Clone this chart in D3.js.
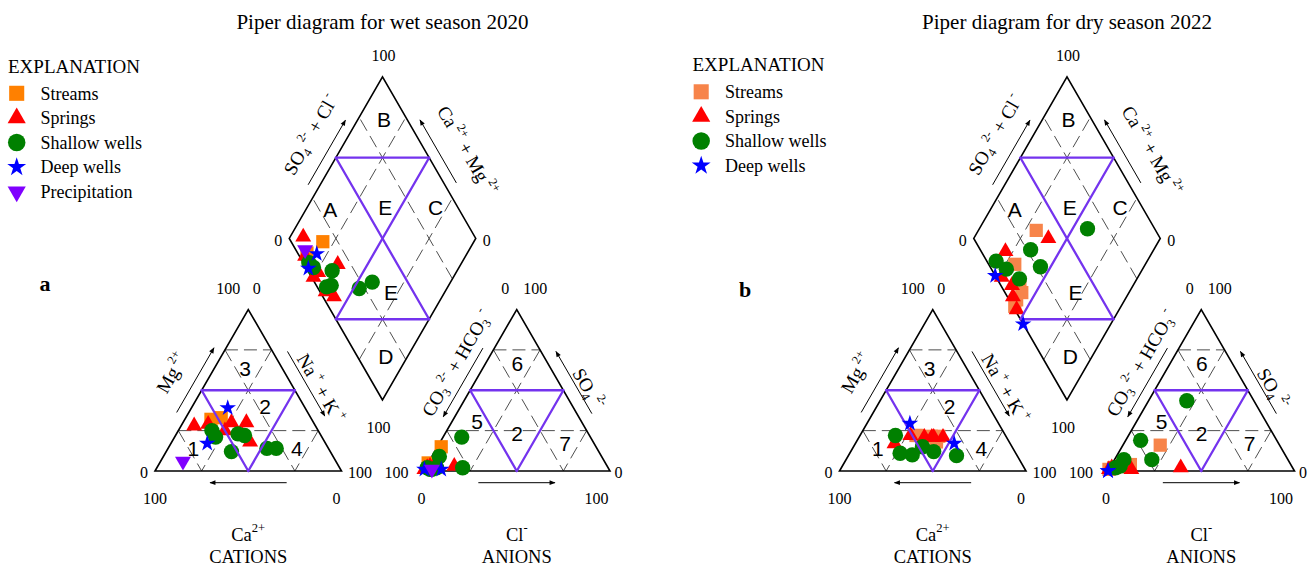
<!DOCTYPE html>
<html>
<head>
<meta charset="utf-8">
<title>Piper diagrams</title>
<script src="https://cdn.jsdelivr.net/npm/d3@7/dist/d3.min.js"></script>
<style>
  html, body { margin: 0; padding: 0; background: #fff; }
  svg { display: block; }
</style>
</head>
<body>
<svg id="chart" width="1314" height="568"></svg>
<script>
// Each sample: [Ca, Mg, Na+K, CO3+HCO3, SO4, Cl] in percent of meq/L
const seriesNames = ["Streams", "Springs", "Shallow wells", "Deep wells", "Precipitation"];

const wetStreams = [[48, 33, 19, 83, 15, 2], [54, 32, 14, 95, 5, 0]];
const wetSprings = [
  [65, 28, 7, 92, 4, 4], [57, 29, 14, 97, 2, 1], [44, 30, 26, 95, 3, 2],
  [36, 30, 34, 82, 3, 15], [40, 18, 42, 94, 2, 4], [42, 22, 36, 97, 2, 1],
  [50, 25, 25, 99, 1, 0]
];
const wetShallow = [
  [57, 25, 18, 97, 2, 1], [44, 23, 33, 87, 9, 4], [41, 22, 37, 92, 2, 6],
  [53, 12, 35, 95, 1, 4], [33, 14, 53, 78, 2, 20], [28, 14, 58, 69, 21, 10],
  [57, 21, 22, 96, 1, 3]
];
const wetDeep = [[41.5, 39, 19.5, 90, 1, 9], [63.5, 17, 19.5, 99, 1, 0]];
const wetPrecip = [[82, 6, 12, 95, 1, 4]];

const dryStreams = [
  [47, 22, 31, 64, 16, 20], [48, 22, 30, 86, 4, 10], [40, 21.5, 38.5, 89, 3, 8],
  [36, 21.5, 42.5, 91, 3, 6], [38, 20, 42, 96, 2, 2], [39, 18, 43, 99, 1, 0]
];
const drySprings = [
  [39, 21, 40, 60, 2, 38], [62, 17, 21, 87, 1, 12], [44, 21, 35, 94, 2, 4],
  [40, 21, 39, 97, 1, 2], [34, 21, 45, 99, 1, 0], [51, 22, 27, 97, 2, 1]
];
const dryShallow = [
  [32.5, 9.5, 58, 36, 43.5, 20.5], [56, 10, 34, 73, 19, 8], [43.5, 12, 44.5, 73, 7, 20],
  [59, 22, 19, 95, 2, 3], [62, 11, 27, 92, 3, 5], [48, 15, 37, 88, 7, 5]
];
const dryDeep = [[47.5, 29.5, 23, 100, 0, 0], [30, 17, 53, 100, 0, 0]];

// Axis tick labels and field labels
const cornerTicks = ["0", "100"];
const cationRegions = [["1", 14, 13.5], ["2", 40, 39], ["3", 63.6, 16.5], ["4", 14, 69]];   // [label, Mg, Na+K]
const anionRegions = [["5", 30.5, 13.5], ["2", 23.3, 38.5], ["6", 66.7, 17], ["7", 17.1, 67.4]]; // [label, SO4, Cl]
const diamondRegions = [["A", 87, 31], ["B", 86, 87.6], ["C", 31, 88], ["D", 11.7, 15.4], ["E", 58, 61], ["E", 28.7, 37.7]]; // [label, Ca+Mg, SO4+Cl]

const palette = {
  wet: { "Streams": "#ff8000", "Springs": "#ff0000", "Shallow wells": "#008000", "Deep wells": "#0000ff", "Precipitation": "#8000ff" },
  dry: { "Streams": "#f7844a", "Springs": "#ff0000", "Shallow wells": "#008000", "Deep wells": "#0000ff" }
};
const PURPLE = "#7433ee";
const SERIF = "'Liberation Serif', 'Times New Roman', serif";
const SANS = "'Liberation Sans', Arial, sans-serif";

const svg = d3.select("#chart");
const SQ3 = Math.sqrt(3) / 2;
const SIDE = 186.5, GAP = 82, BASE_Y = 471;
const tern = d3.scaleLinear().domain([0, 100]).range([0, SIDE]);

// arrowhead marker
const defs = svg.append("defs");
defs.append("marker").attr("id", "head").attr("viewBox", "0 0 10 10")
  .attr("refX", 9).attr("refY", 5).attr("markerWidth", 8).attr("markerHeight", 6)
  .attr("markerUnits", "userSpaceOnUse").attr("orient", "auto")
  .append("path").attr("d", "M0,1 L10,5 L0,9 Z").attr("fill", "#000");

const symbolOf = {
  "Streams": { type: d3.symbolSquare, size: 175, rot: 0 },
  "Springs": { type: d3.symbolTriangle, size: 110, rot: 0 },
  "Shallow wells": { type: d3.symbolCircle, size: 185, rot: 0 },
  "Deep wells": { type: d3.symbolStar, size: 85, rot: 0 },
  "Precipitation": { type: d3.symbolTriangle, size: 110, rot: 180 }
};

function geometry(ox) {
  const cat0 = [ox, BASE_Y];
  const an0 = [ox + SIDE + GAP, BASE_Y];
  const dia0 = [ox + SIDE + GAP / 2, BASE_Y - GAP * SQ3];
  return {
    cat: (ca, mg, na) => [cat0[0] + tern(na + mg / 2), cat0[1] - tern(mg) * SQ3],
    an: (hc, so, cl) => [an0[0] + tern(cl + so / 2), an0[1] - tern(so) * SQ3],
    dia: (camg, socl) => [dia0[0] + (tern(socl) - tern(camg)) / 2, dia0[1] - (tern(camg) + tern(socl)) * SQ3]
  };
}

function richText(sel, parts, size) {
  let cur = 0;
  parts.forEach(([t, rise = 0, scale = 1]) => {
    sel.append("tspan").attr("dy", cur - rise).attr("font-size", size * scale).text(t);
    cur = rise;
  });
}

function along(P0, P1, t, off) {
  const dx = P1[0] - P0[0], dy = P1[1] - P0[1], L = Math.hypot(dx, dy);
  const nx = dy / L, ny = -dx / L;
  return [P0[0] + dx * t + nx * off, P0[1] + dy * t + ny * off];
}

function edgeLabel(g, P0, P1, t, off, parts, size) {
  const [x, y] = along(P0, P1, t, off);
  const ang = Math.atan2(P1[1] - P0[1], P1[0] - P0[0]) * 180 / Math.PI;
  const txt = g.append("text").attr("transform", `translate(${x},${y}) rotate(${ang})`)
    .attr("text-anchor", "middle").attr("font-family", SERIF).attr("font-size", size);
  richText(txt, parts, size);
}

function edgeArrow(g, P0, P1, t0, t1, off, headAtEnd) {
  let a = along(P0, P1, t0, off), b = along(P0, P1, t1, off);
  if (!headAtEnd) [a, b] = [b, a];
  g.append("line").attr("x1", a[0]).attr("y1", a[1]).attr("x2", b[0]).attr("y2", b[1])
    .attr("stroke", "#000").attr("stroke-width", 1).attr("marker-end", "url(#head)");
}

function label(g, x, y, text, size, opts = {}) {
  return g.append("text").attr("x", x).attr("y", y).attr("dy", "0.35em")
    .attr("text-anchor", opts.anchor || "middle")
    .attr("font-family", opts.family || SERIF).attr("font-size", size)
    .attr("font-weight", opts.weight || "normal").text(text);
}

function drawPanel(cfg) {
  const G = geometry(cfg.ox);
  const g = svg.append("g");
  const dx = cfg.ox - 155;
  const seg = (P, Q, style) => g.append("line").attr("x1", P[0]).attr("y1", P[1]).attr("x2", Q[0]).attr("y2", Q[1]).call(style);
  const dashed = s => s.attr("stroke", "#3a3a3a").attr("stroke-width", 0.9).attr("stroke-dasharray", "13,6");
  const purple = s => s.attr("stroke", PURPLE).attr("stroke-width", 2.3).attr("stroke-linecap", "round");

  // subdivision lines at 25 % and 75 %
  [25, 75].forEach(v => {
    seg(G.cat(100 - v, v, 0), G.cat(0, v, 100 - v), dashed);
    seg(G.cat(v, 100 - v, 0), G.cat(v, 0, 100 - v), dashed);
    seg(G.cat(0, 100 - v, v), G.cat(100 - v, 0, v), dashed);
    seg(G.an(100 - v, v, 0), G.an(0, v, 100 - v), dashed);
    seg(G.an(v, 100 - v, 0), G.an(v, 0, 100 - v), dashed);
    seg(G.an(0, 100 - v, v), G.an(100 - v, 0, v), dashed);
    seg(G.dia(v, 0), G.dia(v, 100), dashed);
    seg(G.dia(0, v), G.dia(100, v), dashed);
  });

  // outlines
  const outline = pts => g.append("path").attr("d", d3.line()(pts) + "Z")
    .attr("fill", "none").attr("stroke", "#000").attr("stroke-width", 1.6).attr("stroke-linejoin", "miter");
  outline([G.cat(100, 0, 0), G.cat(0, 100, 0), G.cat(0, 0, 100)]);
  outline([G.an(100, 0, 0), G.an(0, 100, 0), G.an(0, 0, 100)]);
  outline([G.dia(0, 0), G.dia(100, 0), G.dia(100, 100), G.dia(0, 100)]);

  // field labels
  cationRegions.forEach(([t, mg, na]) => { const p = G.cat(100 - mg - na, mg, na); label(g, p[0], p[1], t, 21, { family: SANS }); });
  anionRegions.forEach(([t, so, cl]) => { const p = G.an(100 - so - cl, so, cl); label(g, p[0], p[1], t, 21, { family: SANS }); });
  diamondRegions.forEach(([t, a, b]) => { const p = G.dia(a, b); label(g, p[0], p[1], t, 21, { family: SANS }); });

  // samples: each drawn in the cation triangle, the anion triangle and the diamond
  const pal = palette[cfg.key];
  const drawPoints = (name, rows) => {
    const sym = symbolOf[name];
    const path = d3.symbol().type(sym.type).size(sym.size)();
    rows.forEach(r => {
      const [ca, mg, na, hc, so, cl] = r;
      [G.cat(ca, mg, na), G.an(hc, so, cl), G.dia(ca + mg, so + cl)].forEach(p => {
        g.append("path").attr("d", path)
          .attr("transform", `translate(${p[0]},${p[1]}) rotate(${sym.rot})`)
          .attr("fill", pal[name]);
      });
    });
  };
  cfg.series.filter(s => s[0] !== "Deep wells" && s[0] !== "Precipitation").forEach(([n, rows]) => drawPoints(n, rows));

  // 50 % boundaries
  seg(G.cat(50, 50, 0), G.cat(0, 50, 50), purple);
  seg(G.cat(50, 50, 0), G.cat(50, 0, 50), purple);
  seg(G.cat(0, 50, 50), G.cat(50, 0, 50), purple);
  seg(G.an(50, 50, 0), G.an(0, 50, 50), purple);
  seg(G.an(50, 50, 0), G.an(50, 0, 50), purple);
  seg(G.an(0, 50, 50), G.an(50, 0, 50), purple);
  seg(G.dia(100, 50), G.dia(50, 100), purple);
  seg(G.dia(50, 0), G.dia(0, 50), purple);
  seg(G.dia(50, 0), G.dia(50, 100), purple);
  seg(G.dia(0, 50), G.dia(100, 50), purple);

  cfg.series.filter(s => s[0] === "Deep wells" || s[0] === "Precipitation").forEach(([n, rows]) => drawPoints(n, rows));

  // axis titles along the edges
  const S = 19;
  const cBL = G.cat(100, 0, 0), cTop = G.cat(0, 100, 0), cBR = G.cat(0, 0, 100);
  const aBL = G.an(100, 0, 0), aTop = G.an(0, 100, 0), aBR = G.an(0, 0, 100);
  const dL = G.dia(100, 0), dT = G.dia(100, 100), dR = G.dia(0, 100), dB = G.dia(0, 0);
  edgeLabel(g, cBL, cTop, 0.5, 28, [["Mg"], [" 2+", 9, 0.65]], S);
  edgeArrow(g, cBL, cTop, 0.33, 0.73, 10.5, true);
  edgeLabel(g, cTop, cBR, 0.56, 17, [["Na"], [" +", 9, 0.65], [" + K"], [" +", 9, 0.65]], S);
  edgeArrow(g, cTop, cBR, 0.30, 0.70, 13, true);
  edgeLabel(g, aBL, aTop, 0.59, 19, [["CO"], ["3", -4, 0.65], [" 2-", 9, 0.65], [" + HCO"], ["3", -4, 0.65], [" -", 9, 0.65]], S);
  edgeArrow(g, aBL, aTop, 0.305, 0.73, 10, false);
  edgeLabel(g, aTop, aBR, 0.56, 16, [["SO"], ["4", -4, 0.65], [" 2-", 9, 0.65]], S);
  edgeArrow(g, aTop, aBR, 0.30, 0.685, 13, false);
  edgeLabel(g, dL, dT, 0.54, 27, [["SO"], ["4", -4, 0.65], [" 2-", 9, 0.65], [" + Cl"], [" -", 9, 0.65]], S);
  edgeArrow(g, dL, dT, 0.30, 0.70, 10.5, true);
  edgeLabel(g, dT, dR, 0.57, 30, [["Ca"], [" 2+", 9, 0.65], [" + Mg"], [" 2+", 9, 0.65]], S);
  edgeArrow(g, dT, dR, 0.30, 0.69, 11, false);

  // base arrows
  edgeArrow(g, cBR, cBL, 0.294, 0.705, 11.7, true);
  edgeArrow(g, aBL, aBR, 0.294, 0.705, -11.7, true);

  // corner ticks
  const T = 16;
  label(g, cTop[0] - 20, 288.3, cornerTicks[1], T);
  label(g, cTop[0] + 8.5, 288.3, cornerTicks[0], T);
  label(g, cBL[0] - 11, 472.5, cornerTicks[0], T);
  label(g, cBR[0] + 18.5, 472.5, cornerTicks[1], T);
  label(g, cBL[0], 498, cornerTicks[1], T);
  label(g, cBR[0] - 5, 498, cornerTicks[0], T);
  label(g, aTop[0] - 11.5, 288.3, cornerTicks[0], T);
  label(g, aTop[0] + 18.5, 288.3, cornerTicks[1], T);
  label(g, aBL[0] - 27, 472.5, cornerTicks[1], T);
  label(g, aBR[0] + 8.5, 472.5, cornerTicks[0], T);
  label(g, aBL[0] - 2, 498, cornerTicks[0], T);
  label(g, aBR[0] - 13.5, 498, cornerTicks[1], T);
  label(g, dT[0] + 1, 55, cornerTicks[1], T);
  label(g, dL[0] - 11, 240, cornerTicks[0], T);
  label(g, dR[0] + 11, 240, cornerTicks[0], T);
  label(g, dB[0] - 4, 427.5, cornerTicks[1], T);

  // captions
  const ca = g.append("text").attr("x", (cBL[0] + cBR[0]) / 2).attr("y", 541).attr("text-anchor", "middle")
    .attr("font-family", SERIF).attr("font-size", 18.5);
  richText(ca, [["Ca"], ["2+", 9, 0.68]], 18.5);
  label(g, (cBL[0] + cBR[0]) / 2, 557, "CATIONS", 18.5);
  const cl = g.append("text").attr("x", (aBL[0] + aBR[0]) / 2).attr("y", 541).attr("text-anchor", "middle")
    .attr("font-family", SERIF).attr("font-size", 18.5);
  richText(cl, [["Cl"], ["-", 9, 0.68]], 18.5);
  label(g, (aBL[0] + aBR[0]) / 2, 557, "ANIONS", 18.5);

  // title and panel letter
  label(g, dT[0], 22, cfg.title, 21);
  label(g, cfg.letterPos[0], cfg.letterPos[1], cfg.letter, 22, { weight: "bold" });

  // legend
  const lg = g.append("g").attr("transform", `translate(${8 + dx},${cfg.legendY})`);
  label(lg, 0, 0, "EXPLANATION", 19, { anchor: "start" });
  cfg.series.forEach(([n], i) => {
    const y = 27.3 + i * 24.6;
    const sym = symbolOf[n];
    lg.append("path").attr("d", d3.symbol().type(sym.type).size(sym.size * 1.3)())
      .attr("transform", `translate(8.7,${y}) rotate(${sym.rot})`).attr("fill", pal[n]);
    label(lg, 32.5, y, n, 18, { anchor: "start" });
  });
}

drawPanel({
  ox: 155, key: "wet", title: "Piper diagram for wet season 2020", letter: "a", letterPos: [45, 283], legendY: 66,
  series: [["Streams", wetStreams], ["Springs", wetSprings], ["Shallow wells", wetShallow], ["Deep wells", wetDeep], ["Precipitation", wetPrecip]]
});
drawPanel({
  ox: 839.5, key: "dry", title: "Piper diagram for dry season 2022", letter: "b", letterPos: [745, 289], legendY: 64.5,
  series: [["Streams", dryStreams], ["Springs", drySprings], ["Shallow wells", dryShallow], ["Deep wells", dryDeep]]
});
</script>
</body>
</html>
